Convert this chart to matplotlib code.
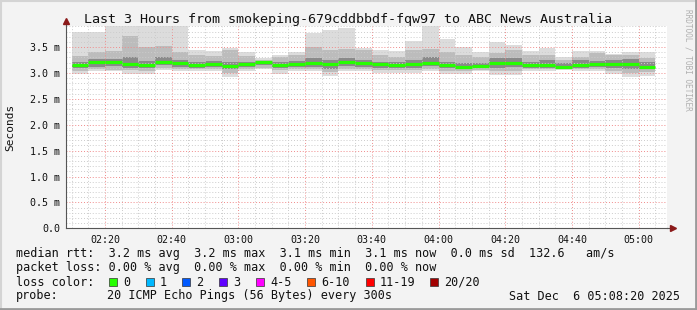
import numpy as np
import matplotlib.pyplot as plt
from matplotlib.patches import Rectangle
from matplotlib.lines import Line2D

plt.rcParams['font.family'] = ['DejaVu Sans Mono']

W, H = 697, 310

def fx(px):
    return px / W

def fy(py):
    return 1 - py / H

# rtt data (ms), one value per 5 minute step starting 02:10
start_min = 2 * 60 + 10
step_min = 5

median = [3.15, 3.21, 3.21, 3.17, 3.16, 3.22, 3.19, 3.15, 3.18, 3.13,
          3.17, 3.21, 3.15, 3.17, 3.19, 3.17, 3.21, 3.19, 3.17, 3.16,
          3.17, 3.19, 3.15, 3.12, 3.13, 3.19, 3.19, 3.15, 3.16, 3.12,
          3.16, 3.18, 3.18, 3.17, 3.12]
ping_min = [2.99, 3.03, 3.03, 2.98, 2.98, 3.06, 3.03, 3.04, 3.04, 2.93,
            3.03, 3.07, 2.99, 3.03, 3.03, 2.94, 3.03, 3.03, 3.00, 3.00,
            3.00, 3.03, 2.98, 2.99, 3.03, 2.96, 2.96, 3.03, 3.03, 3.05,
            3.03, 3.03, 2.98, 2.93, 2.94]
ping_max = [3.80, 3.79, 3.90, 3.90, 3.90, 3.90, 3.90, 3.44, 3.43, 3.49,
            3.41, 3.28, 3.35, 3.41, 3.77, 3.83, 3.86, 3.49, 3.44, 3.43,
            3.62, 3.90, 3.66, 3.51, 3.41, 3.60, 3.54, 3.43, 3.48, 3.30,
            3.43, 3.43, 3.37, 3.41, 3.41]
band2_lo = [3.04, 3.07, 3.06, 3.05, 3.04, 3.10, 3.07, 3.07, 3.08, 3.00,
            3.07, 3.10, 3.05, 3.07, 3.07, 3.02, 3.07, 3.07, 3.05, 3.05,
            3.05, 3.08, 3.04, 3.04, 3.06, 3.03, 3.04, 3.07, 3.07, 3.07,
            3.07, 3.07, 3.04, 3.00, 3.02]
band2_hi = [3.33, 3.40, 3.42, 3.72, 3.51, 3.53, 3.41, 3.35, 3.33, 3.45,
            3.33, 3.26, 3.30, 3.35, 3.51, 3.44, 3.47, 3.44, 3.35, 3.31,
            3.44, 3.47, 3.41, 3.35, 3.31, 3.38, 3.44, 3.35, 3.35, 3.25,
            3.31, 3.38, 3.35, 3.35, 3.28]
band3_lo = [3.09, 3.12, 3.13, 3.10, 3.10, 3.15, 3.12, 3.10, 3.12, 3.07,
            3.11, 3.15, 3.09, 3.11, 3.12, 3.08, 3.13, 3.12, 3.10, 3.10,
            3.10, 3.13, 3.09, 3.08, 3.09, 3.10, 3.12, 3.10, 3.10, 3.09,
            3.10, 3.12, 3.10, 3.08, 3.07]
band3_hi = [3.22, 3.27, 3.27, 3.30, 3.24, 3.30, 3.26, 3.22, 3.24, 3.22,
            3.22, 3.24, 3.22, 3.24, 3.28, 3.26, 3.28, 3.26, 3.22, 3.22,
            3.26, 3.30, 3.22, 3.20, 3.20, 3.28, 3.28, 3.22, 3.25, 3.20,
            3.26, 3.24, 3.26, 3.27, 3.22]
loss = [0] * 35

loss_labels = ['0', '1', '2', '3', '4-5', '6-10', '11-19', '20/20']
loss_colors = ['#26ff00', '#00b8ff', '#0059ff', '#5e00ff', '#ff00ff',
               '#ff5500', '#ff0000', '#a10000']

fig = plt.figure(figsize=(W / 100, H / 100), dpi=100, facecolor='#f3f3f3')
ax = fig.add_axes([fx(66), fy(228.3), 600.5 / W, 201.9 / H])
ax.set_facecolor('white')

edges = start_min + step_min * np.arange(len(median))
lo = np.array(ping_min)
ax.bar(edges, np.array(ping_max) - lo, bottom=lo, width=step_min, align='edge',
       color='#dcdcdc', linewidth=0, zorder=1)
ax.bar(edges, np.array(band2_hi) - np.array(band2_lo), bottom=band2_lo,
       width=step_min, align='edge', color='#bcbcbc', linewidth=0, zorder=1.1)
ax.bar(edges, np.array(band3_hi) - np.array(band3_lo), bottom=band3_lo,
       width=step_min, align='edge', color='#8a8a8a', linewidth=0, zorder=1.2)
ax.hlines(median, edges, edges + step_min,
          colors=[loss_colors[l] for l in loss], linewidth=2.3, zorder=3)

ax.set_xlim(128 + 1 / 3, 308 + 1 / 3)
ax.set_ylim(0, 3.9)

xmaj = np.arange(140, 301, 20)
ax.set_xticks(xmaj)
ax.set_xticklabels(['%02d:%02d' % (m // 60, m % 60) for m in xmaj])
ax.set_xticks(np.arange(130, 309, 5), minor=True)
ymaj = np.arange(0, 3.51, 0.5)
ax.set_yticks(ymaj)
ax.set_yticklabels(['0.0'] + ['%.1f m' % v for v in ymaj[1:]])
ax.set_yticks(np.arange(0, 3.91, 0.1), minor=True)

ax.set_axisbelow(False)
ax.grid(which='minor', color='#cccccc', linestyle=(0, (1, 2)), linewidth=0.7)
ax.grid(which='major', color='#f08a8a', linestyle=(0, (1, 2)), linewidth=0.7)
ax.tick_params(which='both', length=0, labelsize=7.2, colors='#111111')
ax.tick_params(axis='y', pad=4)
ax.tick_params(axis='x', pad=5)

for s in ['top', 'right']:
    ax.spines[s].set_visible(False)
for s in ['left', 'bottom']:
    ax.spines[s].set_color('#555555')
    ax.spines[s].set_linewidth(0.8)
    ax.spines[s].set_zorder(4)

# axis arrows
ax.add_line(Line2D([0, 0], [1, 1.02], transform=ax.transAxes, color='#555555',
                   lw=0.8, clip_on=False))
ax.plot([0], [1.025], marker='^', markersize=4, color='#8b1a1a',
        transform=ax.transAxes, clip_on=False)
ax.add_line(Line2D([1, 1.008], [0, 0], transform=ax.transAxes, color='#555555',
                   lw=0.8, clip_on=False))
ax.plot([1.01], [0], marker='>', markersize=4, color='#8b1a1a',
        transform=ax.transAxes, clip_on=False)

fig.text(fx(348), fy(19), 'Last 3 Hours from smokeping-679cddbbdf-fqw97 to ABC News Australia',
         ha='center', va='center', fontsize=9.6, color='#111111')
fig.text(fx(10), fy(127), 'Seconds', rotation=90, ha='center', va='center',
         fontsize=8, color='#111111')
fig.text(fx(688), fy(60), 'RRDTOOL / TOBI OETIKER', rotation=270, ha='center',
         va='center', fontsize=5.6, color='#b0b0b0')

lsize = 8.5
fig.text(fx(16), fy(254), 'median rtt:  3.2 ms avg  3.2 ms max  3.1 ms min  3.1 ms now  0.0 ms sd  132.6   am/s',
         ha='left', va='center', fontsize=lsize, color='#111111')
fig.text(fx(16), fy(268), 'packet loss: 0.00 % avg  0.00 % max  0.00 % min  0.00 % now',
         ha='left', va='center', fontsize=lsize, color='#111111')
fig.text(fx(16), fy(282), 'loss color:', ha='left', va='center', fontsize=lsize,
         color='#111111')
sq_x = [109, 146, 182, 219, 256, 307, 366, 430]
for x, lab, col in zip(sq_x, loss_labels, loss_colors):
    fig.add_artist(Rectangle((fx(x), fy(286)), 8 / W, 8 / H, facecolor=col,
                             edgecolor='#333333', linewidth=0.5,
                             transform=fig.transFigure))
    fig.text(fx(x + 14), fy(282), lab, ha='left', va='center', fontsize=lsize,
             color='#111111')
fig.text(fx(16), fy(296), 'probe:', ha='left', va='center', fontsize=lsize,
         color='#111111')
fig.text(fx(107), fy(296), '20 ICMP Echo Pings (56 Bytes) every 300s', ha='left',
         va='center', fontsize=lsize, color='#111111')
fig.text(fx(680), fy(296), 'Sat Dec  6 05:08:20 2025', ha='right', va='center',
         fontsize=lsize, color='#111111')

# canvas frame
fig.add_artist(Line2D([0, 1], [fy(0.5), fy(0.5)], transform=fig.transFigure,
                      color='#d4d4d4', lw=1.5))
fig.add_artist(Line2D([fx(0.5), fx(0.5)], [0, 1], transform=fig.transFigure,
                      color='#d4d4d4', lw=1.5))
fig.add_artist(Line2D([0, 1], [fy(308.5), fy(308.5)], transform=fig.transFigure,
                      color='#9a9a9a', lw=2))
fig.add_artist(Line2D([fx(695.5), fx(695.5)], [0, 1], transform=fig.transFigure,
                      color='#9a9a9a', lw=2))

fig.savefig('out.png', dpi=100, facecolor=fig.get_facecolor())
